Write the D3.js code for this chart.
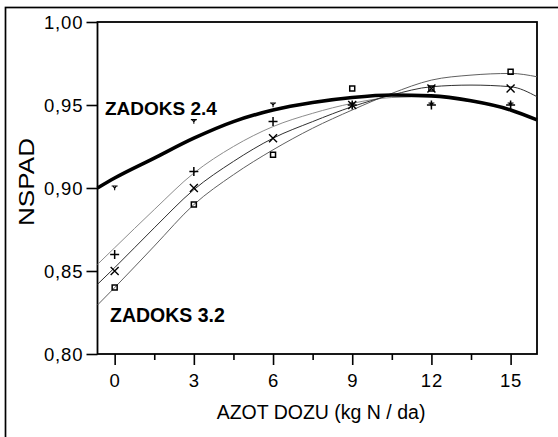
<!DOCTYPE html>
<html>
<head>
<meta charset="utf-8">
<script src="https://cdn.jsdelivr.net/npm/d3@7"></script>
<style>
  html, body { margin: 0; padding: 0; background: #fff; }
  svg { display: block; }
  text { font-family: "Liberation Sans", Arial, sans-serif; fill: #000; }
</style>
</head>
<body>
<script>
// ---- data ----
const doses = [0, 3, 6, 9, 12, 15];                     // observed N doses
const obsZ24   = [0.90, 0.94, 0.95, 0.95, 0.95, 0.95];  // "ʏ" markers (ZADOKS 2.4)
const obsPlus  = [0.86, 0.91, 0.94, 0.95, 0.95, 0.95];  // "+" markers
const obsCross = [0.85, 0.90, 0.93, 0.95, 0.96, 0.96];  // "×" markers
const obsSq    = [0.84, 0.89, 0.92, 0.96, 0.96, 0.97];  // "□" markers

const curveX     = [-0.65, 0, 1.5, 3, 4.5, 6, 7.5, 9, 10.5, 12, 13.5, 15, 16];
const fitZ24     = [0.900, 0.906, 0.918, 0.930, 0.940, 0.947, 0.9515, 0.9545, 0.956, 0.9555, 0.9525, 0.947, 0.941];
const fitPlus    = [0.854, 0.864, 0.887, 0.909, 0.925, 0.937, 0.945, 0.951, 0.9545, 0.955, 0.952, 0.947, 0.941];
const fitCross   = [0.842, 0.852, 0.876, 0.899, 0.916, 0.930, 0.940, 0.949, 0.956, 0.961, 0.962, 0.961, 0.955];
const fitSq      = [0.8295, 0.840, 0.865, 0.890, 0.908, 0.923, 0.936, 0.947, 0.957, 0.965, 0.968, 0.969, 0.967];

const yTicks = [0.80, 0.85, 0.90, 0.95, 1.00];
const xTicks = [0, 3, 6, 9, 12, 15];
const xMinorTicks = [1.5, 4.5, 7.5, 10.5, 13.5];
const fmt = v => v.toFixed(2).replace(".", ",");

// ---- layout ----
const W = 558, H = 437;
const L = 97.5, R = 537, T = 22, B = 354;

const svg = d3.select("body").append("svg").attr("width", W).attr("height", H);

// outer frame
svg.append("rect").attr("x", 5.5).attr("y", 7.5).attr("width", W + 10).attr("height", H + 10)
  .attr("fill", "none").attr("stroke", "#000").attr("stroke-width", 1.7);

const x = d3.scaleLinear().domain([-0.65, 16.0]).range([L, R]);
const y = d3.scaleLinear().domain([0.80, 1.00]).range([B, T]);

// y axis
const yAxis = svg.append("g").attr("transform", `translate(${L},0)`)
  .call(d3.axisLeft(y).tickValues(yTicks).tickFormat(fmt).tickSize(11).tickPadding(3));
yAxis.select(".domain").remove();
yAxis.selectAll(".tick line").attr("stroke", "#000").attr("stroke-width", 1.6);
yAxis.selectAll(".tick text").style("font-size", "18.5px").style("letter-spacing", "0.9px")
  .attr("font-family", null).attr("dy", "0.36em");

// x axis
const xAxis = svg.append("g").attr("transform", `translate(0,${B})`)
  .call(d3.axisBottom(x).tickValues(xTicks).tickFormat(d3.format("d")).tickSize(11).tickPadding(9));
xAxis.select(".domain").remove();
xAxis.selectAll(".tick line").attr("stroke", "#000").attr("stroke-width", 1.6);
xAxis.selectAll(".tick text").style("font-size", "18.5px").style("letter-spacing", "0.9px")
  .attr("font-family", null);

const xMinor = svg.append("g").attr("transform", `translate(0,${B})`)
  .call(d3.axisBottom(x).tickValues(xMinorTicks).tickFormat("").tickSize(6));
xMinor.select(".domain").remove();
xMinor.selectAll(".tick line").attr("stroke", "#000").attr("stroke-width", 1.6);

// plot frame
svg.append("rect").attr("x", L).attr("y", T).attr("width", R - L).attr("height", B - T)
  .attr("fill", "none").attr("stroke", "#000").attr("stroke-width", 1.8);

// lines
const line = d3.line().x(d => x(d[0])).y(d => y(d[1])).curve(d3.curveMonotoneX);
const plotArea = svg.append("g");
function drawLine(vals, color, width) {
  plotArea.append("path").datum(curveX.map((cx, i) => [cx, vals[i]]))
    .attr("d", line).attr("fill", "none").attr("stroke", color).attr("stroke-width", width);
}
drawLine(fitPlus, "#8c8c8c", 1);
drawLine(fitSq, "#606060", 1);
drawLine(fitCross, "#303030", 1);
drawLine(fitZ24, "#000", 3.6);

// markers
const mk = svg.append("g").attr("fill", "none").attr("stroke", "#000");
function markers(vals, pathD, sw) {
  mk.selectAll(null).data(doses.map((d, i) => [d, vals[i]])).enter().append("path")
    .attr("transform", d => `translate(${x(d[0])},${y(d[1])})`)
    .attr("d", pathD).attr("stroke-width", sw);
}
markers(obsSq, "M-2.5,-2.5H2.5V2.5H-2.5Z", 1.5);
markers(obsCross, "M-4,-4L4,4M-4,4L4,-4", 1.4);
markers(obsPlus, "M-4.5,0H4.5M0,-4.5V4.5", 1.5);
markers(obsZ24, "M-3,-2H3M-1.7,-2L0,0.3L1.7,-2M0,0.3V2.2", 1.1);

// in-plot labels
svg.append("text").attr("x", 105).attr("y", 115).style("font-size", "19px").style("font-weight", "bold")
  .text("ZADOKS 2.4");
svg.append("text").attr("x", 110).attr("y", 321.5).style("font-size", "19.5px").style("font-weight", "bold")
  .text("ZADOKS 3.2");

// axis titles
svg.append("text").attr("x", (212 + 430) / 2).attr("y", 419).attr("text-anchor", "middle")
  .style("font-size", "19.5px").text("AZOT DOZU (kg N / da)");
svg.append("text").attr("transform", `translate(33.5,${182}) rotate(-90)`).attr("text-anchor", "middle")
  .style("font-size", "21.5px").attr("textLength", 88).attr("lengthAdjust", "spacingAndGlyphs").text("NSPAD");
</script>
</body>
</html>
